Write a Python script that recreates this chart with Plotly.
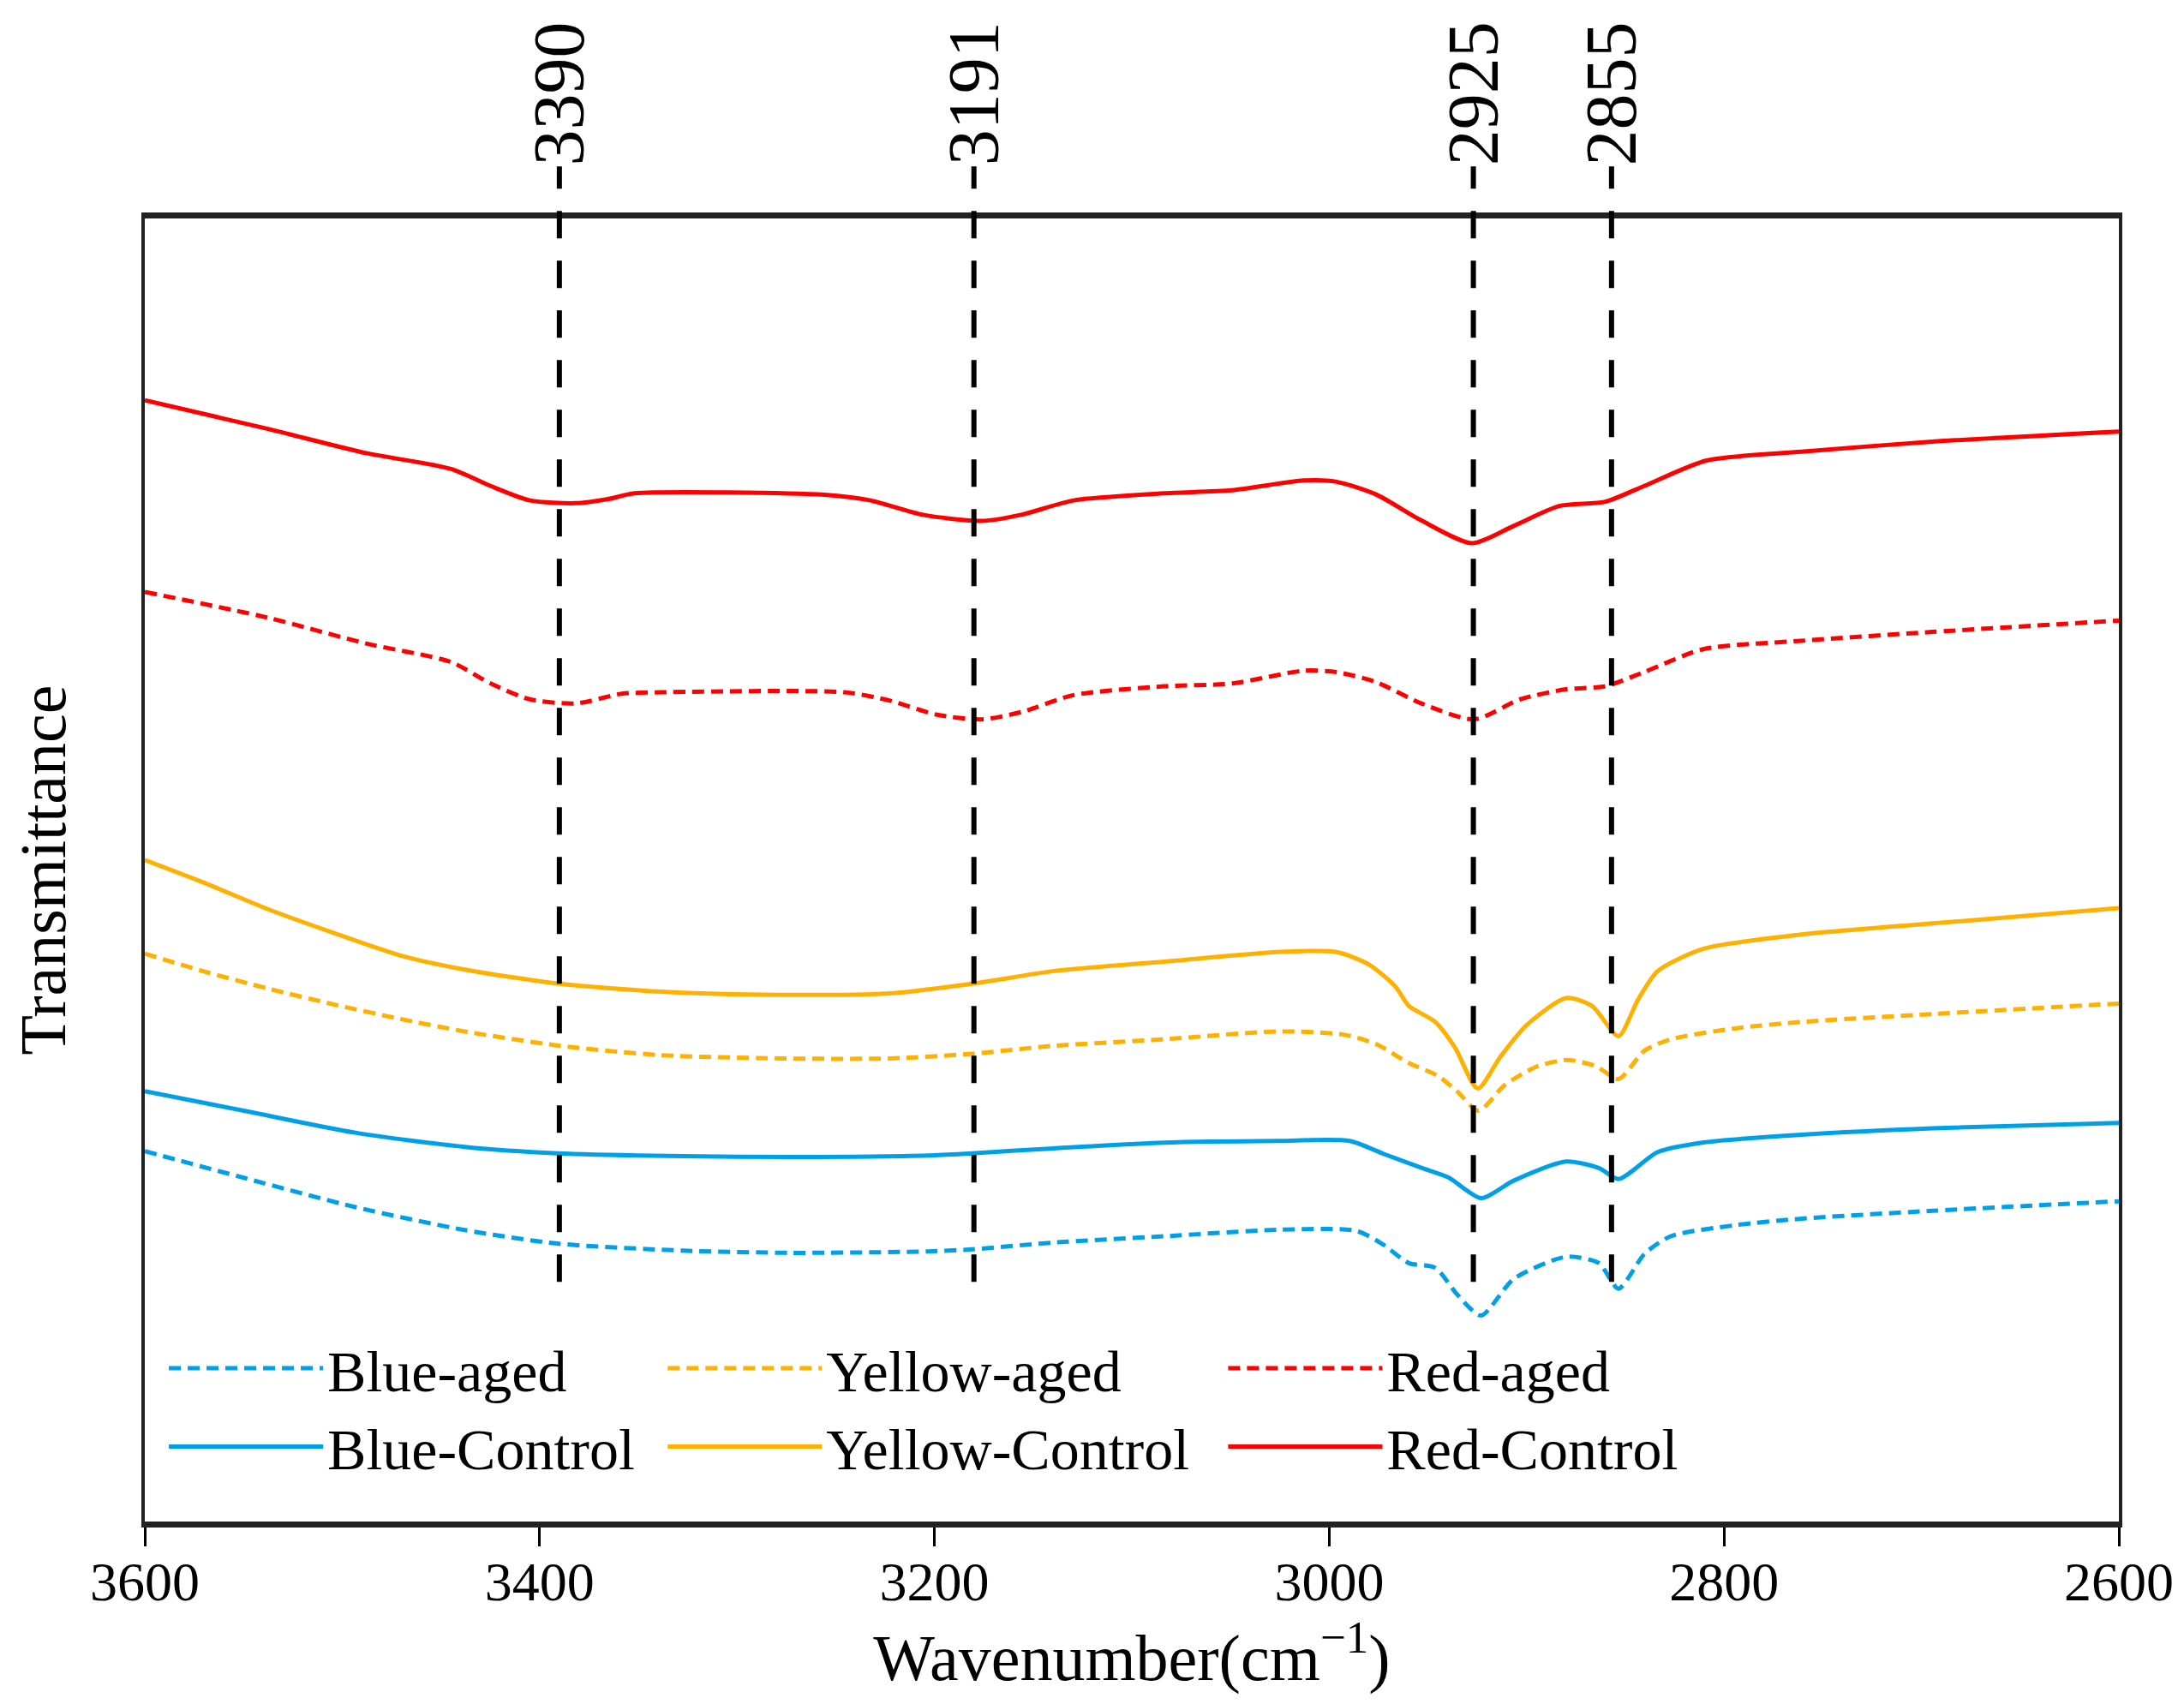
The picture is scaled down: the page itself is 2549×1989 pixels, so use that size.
import plotly.graph_objects as go

# Wavenumbers (cm-1) and transmittance (a.u.), one list pair per spectrum
red_control_wn = [3600, 3537.6, 3487.9, 3444.9, 3424.8, 3404.9, 3381.7, 3365.2, 3351.8, 3255.6,
                  3232.3, 3205.8, 3176, 3156, 3129.5, 3083.8, 3049.3, 3012.8, 2996.3, 2976.3,
                  2953.3, 2927.6, 2906.8, 2883.5, 2860.2, 2840.5, 2808.8, 2760.8, 2694.5, 2600]
red_control_t = [86.05, 83.85, 81.99, 80.78, 79.47, 78.36, 78.15, 78.47, 78.91, 78.80,
                 78.36, 77.26, 76.79, 77.26, 78.36, 78.91, 79.14, 79.89, 79.79, 78.82,
                 76.82, 75.08, 76.39, 77.93, 78.26, 79.47, 81.43, 82.10, 82.87, 83.64]

red_aged_wn = [3600, 3537.6, 3487.9, 3444.9, 3424.8, 3404.9, 3381.7, 3358.4, 3338.5, 3245.6,
               3222.4, 3199.2, 3176, 3156, 3129.5, 3083.8, 3049.3, 3012.8, 2996.3, 2976.3,
               2953.3, 2926.5, 2903.3, 2880, 2860.2, 2840.5, 2810.5, 2760.8, 2694.5, 2600]
red_aged_t = [71.34, 69.36, 67.38, 65.96, 64.31, 63.10, 62.78, 63.53, 63.64, 63.64,
              62.99, 61.93, 61.56, 62.12, 63.42, 64.10, 64.31, 65.30, 65.19, 64.42,
              62.78, 61.56, 63.10, 63.87, 64.10, 65.19, 66.95, 67.59, 68.27, 69.14]

yellow_control_wn = [3600, 3570.8, 3537.6, 3504.4, 3471.2, 3438, 3389.9, 3338.5, 3278.8, 3222.4,
                     3180.9, 3139.4, 3083.7, 3026.1, 2996.3, 2979.7, 2966.4, 2959.7, 2946.3, 2936.4,
                     2924.8, 2913.3, 2900, 2880, 2866.9, 2853.5, 2843.6, 2833.6, 2810.4, 2760.6,
                     2694.2, 2600]
yellow_control_t = [50.77, 49.07, 46.99, 45.17, 43.47, 42.36, 41.27, 40.66, 40.42, 40.53,
                    41.27, 42.25, 42.97, 43.71, 43.71, 42.73, 41.03, 39.57, 38.34, 36.40,
                    33.23, 35.67, 38.10, 40.17, 39.57, 37.25, 40.05, 42.25, 43.96, 45.05,
                    45.90, 47.07]

yellow_aged_wn = [3600, 3570.8, 3537.6, 3504.4, 3471.2, 3438, 3389.9, 3338.5, 3278.8, 3222.4,
                  3180.9, 3139.4, 3083.7, 3026.1, 2992.9, 2976.2, 2959.7, 2944.9, 2935, 2924.4,
                  2911.2, 2894.7, 2879.6, 2864.7, 2853.5, 2840.2, 2827, 2793.8, 2760.6, 2694.2,
                  2600]
yellow_aged_t = [43.58, 42.25, 40.90, 39.69, 38.59, 37.61, 36.51, 35.79, 35.54, 35.54,
                 35.90, 36.51, 37.01, 37.61, 37.37, 36.64, 35.19, 34.20, 32.98, 31.52,
                 33.48, 34.93, 35.42, 34.93, 33.96, 36.15, 37.01, 37.86, 38.34, 38.95,
                 39.75]

blue_control_wn = [3600, 3548.7, 3493.4, 3438, 3391, 3327.4, 3272.2, 3203, 3180.9, 3139.4,
                   3083.7, 3026.1, 2989.6, 2972.9, 2953, 2939.7, 2923.1, 2906.6, 2880, 2863.4,
                   2853.5, 2833.6, 2810.4, 2760.6, 2694.2, 2600]
blue_control_t = [33.03, 31.49, 29.84, 28.75, 28.26, 28.04, 27.98, 28.09, 28.26, 28.64,
                  29.08, 29.21, 29.21, 28.24, 27.13, 26.41, 24.82, 26.16, 27.63, 27.13,
                  26.28, 28.35, 29.09, 29.69, 30.18, 30.59]

blue_aged_wn = [3600, 3548.7, 3493.4, 3438, 3391, 3327.4, 3272.2, 3203, 3180.9, 3139.4,
                3083.7, 3026.1, 2986.3, 2972.9, 2959.7, 2946.3, 2935, 2923.1, 2906.6, 2880,
                2863.4, 2853.5, 2840.2, 2827, 2793.8, 2760.6, 2694.2, 2600]
blue_aged_t = [28.42, 26.33, 24.13, 22.37, 21.33, 20.79, 20.62, 20.73, 20.89, 21.41,
               21.89, 22.39, 22.31, 21.28, 19.83, 19.47, 17.39, 15.81, 18.61, 20.32,
               19.83, 17.87, 20.56, 21.89, 22.75, 23.24, 23.85, 24.58]

# marked absorption bands: where the guide line sits and the label shown above it
peak_positions = [3390, 3180, 2927, 2857]
peak_labels = ["3390", "3191", "2925", "2855"]

x_ticks = [3600, 3400, 3200, 3000, 2800, 2600]

BLUE = "#00A0E9"
YELLOW = "#FFB000"
RED = "#FF0000"
FONT = "Liberation Serif"
AGED_DASH = "14px,8px"

# (name, x, y, colour, dash, legend column)
series = [
    ("Blue-aged", blue_aged_wn, blue_aged_t, BLUE, AGED_DASH, "legend"),
    ("Yellow-aged", yellow_aged_wn, yellow_aged_t, YELLOW, AGED_DASH, "legend2"),
    ("Red-aged", red_aged_wn, red_aged_t, RED, AGED_DASH, "legend3"),
    ("Blue-Control", blue_control_wn, blue_control_t, BLUE, "solid", "legend"),
    ("Yellow-Control", yellow_control_wn, yellow_control_t, YELLOW, "solid", "legend2"),
    ("Red-Control", red_control_wn, red_control_t, RED, "solid", "legend3"),
]

fig = go.Figure()
for name, wn, t, color, dash, leg in series:
    fig.add_trace(go.Scatter(
        x=wn, y=t, name=name, mode="lines", legend=leg,
        line=dict(color=color, width=5, dash=dash, shape="spline", smoothing=0.7),
    ))

# dashed guide lines at the band positions, running up past the frame
for pos, lab in zip(peak_positions, peak_labels):
    fig.add_shape(type="line", xref="x", yref="paper",
                  x0=pos, x1=pos, y0=0.184, y1=1.04,
                  line=dict(color="black", width=6, dash="32px,26px"))
    fig.add_annotation(x=pos, y=1.039, xref="x", yref="paper", text=lab,
                       showarrow=False, textangle=-90, xanchor="center", yanchor="bottom",
                       font=dict(family=FONT, size=84, color="black"))

# one small legend per column, so each column starts where the reference puts it
legend_style = dict(y=0.151, xanchor="left", yanchor="top", orientation="v",
                    font=dict(family=FONT, size=68), itemwidth=180,
                    bgcolor="rgba(0,0,0,0)")

fig.update_layout(
    width=2549, height=1989,
    margin=dict(l=169, r=73, t=255, b=213),
    paper_bgcolor="white", plot_bgcolor="white",
    font=dict(family=FONT, color="black"),
    showlegend=True,
    legend=dict(x=0.010, **legend_style),
    legend2=dict(x=0.2627, **legend_style),
    legend3=dict(x=0.5466, **legend_style),
)
fig.update_xaxes(range=[3600, 2600], tickvals=x_ticks, ticks="outside", ticklen=22,
                 tickwidth=3, tickcolor="black", showline=True, linewidth=7, linecolor="#222",
                 mirror=True, showgrid=False, zeroline=False, ticklabelstandoff=-14,
                 tickfont=dict(family=FONT, size=64),
                 title=dict(text="Wavenumber(cm<sup>\u22121</sup>)", font=dict(family=FONT, size=76),
                            standoff=14))
fig.update_yaxes(range=[0, 100], showticklabels=False, ticks="", showline=True, linewidth=4,
                 linecolor="#222", mirror=True, showgrid=False, zeroline=False,
                 title=dict(text="Transmittance", font=dict(family=FONT, size=76), standoff=64))

# drop the page's default body margin so the figure sits flush in the window
fig.write_html("out.html", config={"displayModeBar": False},
               post_script="document.body.style.margin='0';document.body.style.overflow='hidden';")
